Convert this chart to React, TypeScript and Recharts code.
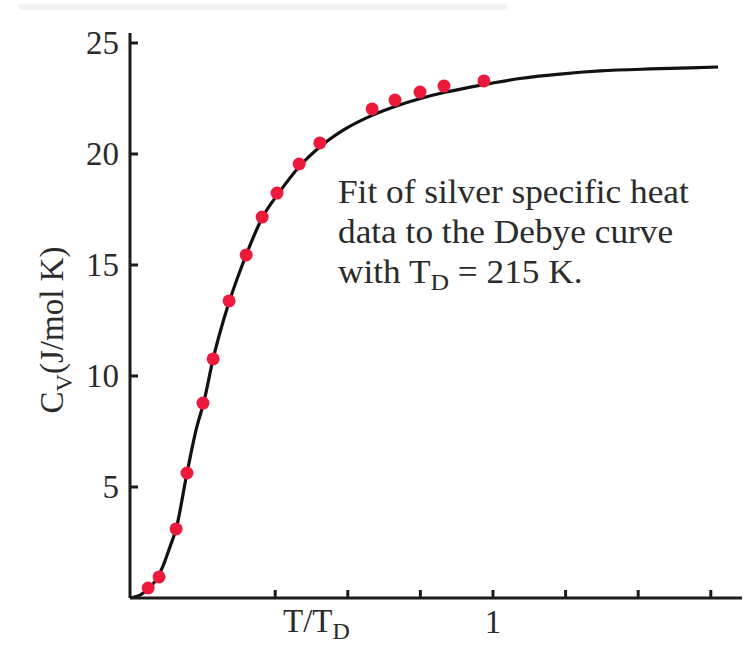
import React from 'react';
import { ComposedChart, Line, Scatter, XAxis, YAxis } from 'recharts';

// Debye fit curve (T/T_D, Cv in J/mol K)
const curveT = [0, 0.03, 0.05, 0.07, 0.09, 0.11, 0.127, 0.157, 0.182, 0.204, 0.229, 0.253, 0.275, 0.32, 0.364, 0.408, 0.468, 0.526, 0.592, 0.667, 0.73, 0.8, 0.868, 0.937, 1.0, 1.074, 1.185, 1.295, 1.433, 1.543, 1.62];
const curveCv = [0, 0.15, 0.41, 0.77, 1.4, 2.3, 3.11, 5.63, 7.57, 8.87, 10.77, 12.25, 13.42, 15.45, 17.12, 18.2, 19.46, 20.36, 21.12, 21.74, 22.14, 22.5, 22.78, 23.01, 23.2, 23.4, 23.6, 23.74, 23.83, 23.88, 23.92];

// measured silver data
const silverT = [0.05, 0.08, 0.127, 0.157, 0.201, 0.229, 0.273, 0.32, 0.364, 0.405, 0.466, 0.523, 0.667, 0.73, 0.799, 0.865, 0.975];
const silverCv = [0.45, 0.95, 3.11, 5.63, 8.78, 10.77, 13.38, 15.45, 17.16, 18.24, 19.55, 20.5, 22.03, 22.43, 22.79, 23.06, 23.29];

const yTicks = [0, 5, 10, 15, 20, 25];
const xTicks = [0.4, 0.6, 0.8, 1, 1.2, 1.4, 1.6];
const xLabeled = [1];

const curveData = curveT.map((t, i) => ({ t, cv: curveCv[i] }));
const silverData = silverT.map((t, i) => ({ t, cv: silverCv[i] }));

const ink = '#1c1c1c';
const textInk = '#2b2b2b';
const serif = '"Liberation Serif", "DejaVu Serif", serif';

const YTick = ({ x, y, payload }: any) => (
  <g>
    {payload.value !== 0 && (
      <>
        <line x1={x} x2={x + 8} y1={y} y2={y} stroke={ink} strokeWidth={3} />
        <text x={x - 11} y={y} dy={11} textAnchor="end" fontSize={33} fontFamily={serif} fill={textInk}>
          {payload.value}
        </text>
      </>
    )}
  </g>
);

const XTick = ({ x, y, payload }: any) => (
  <g>
    <line x1={x} x2={x} y1={y} y2={y - 8} stroke={ink} strokeWidth={3} />
    {xLabeled.includes(payload.value) && (
      <text x={x} y={y + 35} textAnchor="middle" fontSize={33} fontFamily={serif} fill={textInk}>
        {payload.value}
      </text>
    )}
  </g>
);

const Dot = ({ cx, cy }: any) => <circle cx={cx} cy={cy} r={6.5} fill="#ee1a3c" />;

export default function App() {
  return (
    <div style={{ position: 'absolute', left: 0, top: 0, width: 754, height: 645, background: '#fff' }}>
      <div style={{ position: 'absolute', left: 19, top: 4, width: 488, height: 6, background: '#f2f2f2' }} />
      <ComposedChart width={754} height={645} margin={{ top: 33, right: 12, left: 0, bottom: 0 }}>
        <XAxis
          type="number"
          dataKey="t"
          domain={[0, 1.686]}
          ticks={xTicks}
          height={47}
          tickSize={0}
          tickMargin={0}
          tickLine={false}
          axisLine={{ stroke: ink, strokeWidth: 3 }}
          tick={<XTick />}
          allowDataOverflow
        />
        <YAxis
          type="number"
          dataKey="cv"
          domain={[0, 25.45]}
          ticks={yTicks}
          width={130}
          tickSize={0}
          tickMargin={0}
          tickLine={false}
          axisLine={{ stroke: ink, strokeWidth: 3 }}
          tick={<YTick />}
          allowDataOverflow
        />
        <Line
          data={curveData}
          dataKey="cv"
          type="monotone"
          stroke="#111"
          strokeWidth={3.2}
          dot={false}
          isAnimationActive={false}
        />
        <Scatter data={silverData} dataKey="cv" shape={<Dot />} isAnimationActive={false} />
      </ComposedChart>
      <svg width={754} height={645} style={{ position: 'absolute', left: 0, top: 0, pointerEvents: 'none' }}>
        <g fontFamily={serif} fill={textInk} fontSize={33}>
          <text transform="rotate(-90)" x={-330} y={63} textAnchor="middle">
            C<tspan fontSize={24} dy={9}>V</tspan>
            <tspan dy={-9}>(J/mol K)</tspan>
          </text>
          <text x={283} y={632}>
            T/T<tspan fontSize={24} dy={7}>D</tspan>
          </text>
          <g transform="translate(338 0) scale(1.07 1) translate(-338 0)">
            <text x={338} y={203}>Fit of silver specific heat</text>
            <text x={338} y={243}>data to the Debye curve</text>
            <text x={338} y={283}>
              with T<tspan fontSize={24} dy={7}>D</tspan>
              <tspan dy={-7}> = 215 K.</tspan>
            </text>
          </g>
        </g>
      </svg>
    </div>
  );
}
